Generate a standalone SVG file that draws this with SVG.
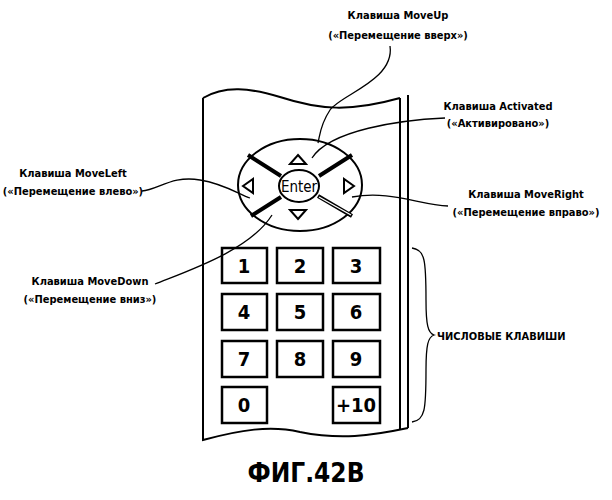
<svg xmlns="http://www.w3.org/2000/svg" width="612" height="500" viewBox="0 0 612 500">
<style>
.l{font-family:"DejaVu Sans Condensed","Liberation Sans",sans-serif;font-size:11px;font-weight:bold;text-anchor:middle;fill:#000}
.k{font-family:"DejaVu Sans Condensed","Liberation Sans",sans-serif;font-size:20px;font-weight:bold;text-anchor:middle;fill:#000}
.s{fill:none;stroke:#000;stroke-width:2}
.c{fill:none;stroke:#000;stroke-width:1.3}
.key{fill:#fff;stroke:#000;stroke-width:2.5}
</style>
<rect width="612" height="500" fill="#fff"/>
<g id="remote">
<path class="s" d="M203,98 C225,85 250,88 280,97 C320,110 350,112 400,98 M203,98 L203,440 C240,430 270,425 300,432 C340,440 370,436 408,428 M400,98 L400,430 M408,95 L408,428"/>
<ellipse class="s" cx="300" cy="185" rx="62" ry="46" stroke-width="2.5"/>
<path d="M248,155 L281,176 M352,155 L319,176 M281,197 L251,216" stroke="#000" stroke-width="4"/>
<path d="M318,196 L352,216" stroke="#000" stroke-width="4"/>
<path d="M319,197 L351,215" stroke="#fff" stroke-width="1.2"/>
<ellipse class="s" cx="299" cy="186" rx="20" ry="16" stroke-width="2.5" fill="#fff"/>
<text x="299" y="192" class="k" style="font-size:15px;font-weight:normal">Enter</text>
<path class="s" d="M298,155 L306,164 L290,164 Z M298,219 L306,210 L290,210 Z M243,186 L253,179 L253,193 Z M354,186 L344,179 L344,193 Z"/>
</g>
<g id="keys">
<rect class="key" x="222" y="248" width="45" height="35"/><text class="k" x="244" y="273">1</text>
<rect class="key" x="277" y="248" width="46" height="35"/><text class="k" x="300" y="273">2</text>
<rect class="key" x="333" y="248" width="47" height="35"/><text class="k" x="356" y="273">3</text>
<rect class="key" x="222" y="294" width="45" height="36"/><text class="k" x="244" y="319">4</text>
<rect class="key" x="277" y="294" width="46" height="36"/><text class="k" x="300" y="319">5</text>
<rect class="key" x="333" y="294" width="47" height="36"/><text class="k" x="356" y="319">6</text>
<rect class="key" x="222" y="341" width="45" height="36"/><text class="k" x="244" y="366">7</text>
<rect class="key" x="277" y="341" width="46" height="36"/><text class="k" x="300" y="366">8</text>
<rect class="key" x="333" y="341" width="47" height="36"/><text class="k" x="356" y="366">9</text>
<rect class="key" x="222" y="387" width="45" height="36"/><text class="k" x="244" y="412">0</text>
<rect class="key" x="333" y="387" width="47" height="36"/><text class="k" x="356" y="412">+10</text>
</g>
<g id="connectors">
<path class="c" d="M390,46 C395,80 340,95 330,110 C320,125 320,135 318,143"/>
<path class="c" d="M445,118 C400,120 330,130 312,158"/>
<path class="c" d="M142,191 C158,190 172,175 200,180 C225,184 240,195 250,198"/>
<path class="c" d="M448,206 C420,205 390,190 352,197"/>
<path class="c" d="M155,284 C190,270 250,250 272,215"/>
<path class="c" d="M412,248 C425,250 426,260 426,300 C426,325 428,333 434,335 C428,337 426,345 426,370 C426,410 425,420 412,422"/>
</g>
<g id="labels">
<text class="l" x="398" y="19">Клавиша MoveUp</text>
<text class="l" x="398" y="39">(«Перемещение вверх»)</text>
<text class="l" x="498" y="110">Клавиша Activated</text>
<text class="l" x="498" y="127">(«Активировано»)</text>
<text class="l" x="73" y="177">Клавиша MoveLeft</text>
<text class="l" x="73" y="195">(«Перемещение влево»)</text>
<text class="l" x="526" y="198">Клавиша MoveRight</text>
<text class="l" x="526" y="216">(«Перемещение вправо»)</text>
<text class="l" x="90" y="285">Клавиша MoveDown</text>
<text class="l" x="90" y="303">(«Перемещение вниз»)</text>
<text class="l" x="437" y="340" style="text-anchor:start">ЧИСЛОВЫЕ КЛАВИШИ</text>
<text class="l" x="306" y="482" style="font-size:26px">ФИГ.42B</text>
</g>
</svg>
